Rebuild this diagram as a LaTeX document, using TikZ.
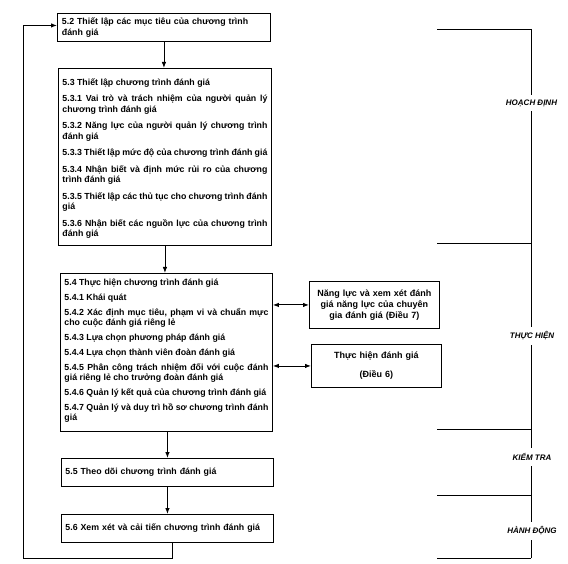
\documentclass[tikz,border=0pt]{standalone}
\usepackage{fontspec}
\setmainfont{Liberation Sans}
\usetikzlibrary{arrows.meta}
\newcommand{\bfs}{\bfseries\fontsize{8.8}{10.5}\selectfont}
\newcommand{\cbox}[4]{\parbox[t][#1][t]{#2}{\hyphenpenalty=10000\exhyphenpenalty=10000\setlength{\parskip}{#3}\strut#4}}
\begin{document}
\begin{tikzpicture}[x=1pt,y=-1pt,
  box/.style={draw, line width=0.9pt, font=\bfs},
  arr/.style={-{Latex[length=6pt,width=4.5pt]}, line width=0.9pt},
  darr/.style={{Latex[length=6pt,width=4.5pt]}-{Latex[length=6pt,width=4.5pt]}, line width=0.9pt},
  lab/.style={font=\bfseries\itshape\fontsize{8}{9}\selectfont, fill=white, inner xsep=1pt, inner ysep=5pt},
  brk/.style={line width=0.9pt}]
\useasboundingbox (0,0) rectangle (568,564);
\fill[white] (0,0) rectangle (568,564);

% boxes
\node[box, anchor=north west, minimum width=213pt, minimum height=28pt, text width=204pt, inner xsep=4.5pt, align=left] (b52) at (57,13)
  {5.2 Thiết lập các mục tiêu của chương trình\\đánh giá};

\node[box, anchor=north west, inner xsep=4pt, inner ysep=9.5pt] (b53) at (58,68)
  {\cbox{158pt}{205pt}{6pt}{5.3 Thiết lập chương trình đánh giá\par
   5.3.1 Vai trò và trách nhiệm của người quản lý\linebreak chương trình đánh giá\par
   5.3.2 Năng lực của người quản lý chương trình\linebreak đánh giá\par
   5.3.3 Thiết lập mức độ của chương trình đánh giá\par
   5.3.4 Nhận biết và định mức rủi ro của chương\linebreak trình đánh giá\par
   5.3.5 Thiết lập các thủ tục cho chương trình đánh\linebreak giá\par
   5.3.6 Nhận biết các nguồn lực của chương trình\linebreak đánh giá}};

\node[box, anchor=north west, inner xsep=4pt, inner ysep=5pt] (b54) at (60,273)
  {\cbox{148pt}{204pt}{4.3pt}{5.4 Thực hiện chương trình đánh giá\par
   5.4.1 Khái quát\par
   5.4.2 Xác định mục tiêu, phạm vi và chuẩn mực\linebreak cho cuộc đánh giá riêng lẻ\par
   5.4.3 Lựa chọn phương pháp đánh giá\par
   5.4.4 Lựa chọn thành viên đoàn đánh giá\par
   5.4.5 Phân công trách nhiệm đối với cuộc đánh\linebreak giá riêng lẻ cho trưởng đoàn đánh giá\par
   5.4.6 Quản lý kết quả của chương trình đánh giá\par
   5.4.7 Quản lý và duy trì hồ sơ chương trình đánh\linebreak giá}};

\node[box, anchor=north west, minimum width=212pt, minimum height=28pt, text width=204pt, inner xsep=4pt, align=left] (b55) at (61,458)
  {5.5 Theo dõi chương trình đánh giá};

\node[box, anchor=north west, minimum width=212pt, minimum height=28pt, text width=204pt, inner xsep=4pt, align=left] (b56) at (61,514)
  {5.6 Xem xét và cải tiến chương trình đánh giá};

\node[box, font=\bfseries\fontsize{9}{11}\selectfont, anchor=north west, minimum width=130pt, minimum height=47pt, text width=126pt, inner xsep=2pt, align=center] (bA) at (309,281)
  {Năng lực và xem xét đánh\\giá năng lực của chuyên\\gia đánh giá (Điều 7)};

\node[box, font=\bfseries\fontsize{9}{11}\selectfont, anchor=north west, minimum width=130pt, minimum height=43pt, text width=126pt, inner xsep=2pt, align=center] (bB) at (311,344)
  {Thực hiện đánh giá\\[8pt](Điều 6)};

% connectors
\draw[arr] (b52.south) -- (b52.south |- b53.north);
\draw[arr] (b53.south) -- (b53.south |- b54.north);
\draw[arr] (b55.north |- b54.south) -- (b55.north);
\draw[arr] (b55.south) -- (b56.north);
\draw[darr] (b54.east |- bA.west) -- (bA.west);
\draw[darr] (b54.east |- bB.west) -- (bB.west);
\coordinate (loop) at (23,558);
\draw[arr] ([xshift=5pt]b56.south) |- (loop) |- ([yshift=2pt]b52.west);

% right bracket
\coordinate (r1) at (531,29);
\coordinate (r2) at (531,243);
\coordinate (r3) at (531,429);
\coordinate (r4) at (531,495);
\coordinate (r5) at (531,558);
\draw[brk] (r1) -- (r5);
\foreach \r in {r1,r2,r3,r4,r5} \draw[brk] (\r) -- ([xshift=-94pt]\r);
\node[lab] (lHD) at (531.5,103) {HOẠCH ĐỊNH};
\node[lab] (lTH) at (532,336) {THỰC HIỆN};
\node[lab] (lKT) at (532,457) {KIỂM TRA};
\node[lab] (lHDg) at (532,531) {HÀNH ĐỘNG};
\end{tikzpicture}
\end{document}
